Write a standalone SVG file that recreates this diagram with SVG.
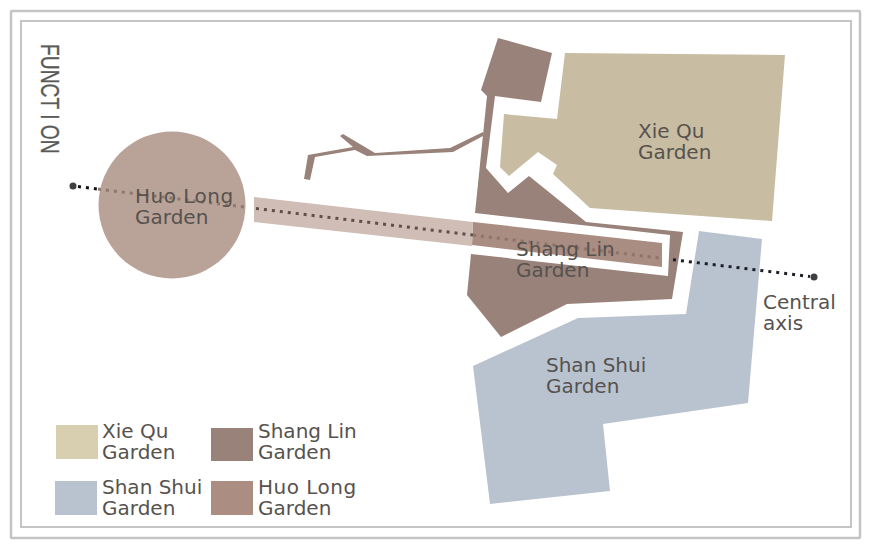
<svg xmlns="http://www.w3.org/2000/svg" width="878" height="551" viewBox="0 0 878 551">
<style>
text{font-family:"DejaVu Sans","Liberation Sans",sans-serif;font-size:20px;fill:#57524e}
.wide{letter-spacing:.5px}
.plain{letter-spacing:0}
.frame{fill:none;stroke:#c4c4c4}
.sl{fill:#98827a}
.axis{fill:none;stroke-width:3;stroke-dasharray:3 5}
</style>
<rect width="878" height="551" fill="#fff"/>
<rect class="frame" x="11" y="11" width="849" height="527" stroke-width="2.5" rx="1"/>
<rect class="frame" x="21" y="21" width="830" height="506" stroke-width="2"/>
<g id="function-title"><text transform="translate(41,44) rotate(90) scale(.74,1)" style="font-family:'Liberation Sans',sans-serif;font-size:26px;fill:#5a5a58;stroke:#5a5a58;stroke-width:.3">FUNCT I ON</text></g>
<g id="xie-qu"><path fill="#c8bca2" d="M565 53 785 55 772 221 590 208 553 174 557 165 538 152 509 176 500 167 504 114 557 119Z"/></g>
<g id="shan-shui"><path fill="#b9c3d0" d="M699 231 762 239 748 403 603 424 610 491 490 504 473 366 578 318 686 314Z"/></g>
<g id="shang-lin">
<path class="sl" d="M498 38 552 53 541 102 495 96 486 168 508 193 529 176 586 222 683 232 672 299 567 304 501 337 467 295 471 254 668 276 670 235 475 213 487 96 481 90Z"/>
<path class="sl" d="M308 155 353 147 340 136 343 134 375 153 450 148 483 132 483 136 453 152 367 156 355 150 315 157 310 180 304 179Z"/>
<path fill="#a98c82" d="M473 222 662 243 662 267 472 245Z"/>
</g>
<g id="huo-long"><circle cx="172" cy="205" r="73.5" fill="#b9a399"/><path fill="#d0bdb5" d="M254 197 473 222 472 246 254 222Z"/></g>
<g id="connectors">
<path class="axis" stroke="#111" d="M78 186.6 98 189.1"/>
<path class="axis" stroke="#8f776d" d="M98 189.1 246 207.2"/>
<path class="axis" stroke="#5f4f49" d="M256 208.5 473 235.1"/>
<path class="axis" stroke="#8f7268" d="M473 235.1 662 258.3"/>
<path class="axis" stroke="#1c2026" d="M673 259.7 810 276.5"/>
<circle cx="73" cy="186" r="3.5" fill="#3f3f3f"/><circle cx="814" cy="277" r="3.5" fill="#3f3f3f"/>
</g>
<g id="labels">
<text class="wide" x="135" y="203">Huo Long<tspan class="plain" x="135" dy="21">Garden</tspan></text>
<text x="638" y="138">Xie Qu<tspan x="638" dy="21">Garden</tspan></text>
<text x="516" y="256">Shang Lin<tspan x="516" dy="21">Garden</tspan></text>
<text x="546" y="372">Shan Shui<tspan x="546" dy="21">Garden</tspan></text>
<text x="763" y="309">Central<tspan x="763" dy="21">axis</tspan></text>
</g>
<g id="legend-xie-qu"><rect x="56" y="425" width="42" height="34" fill="#d8cfb0"/><text x="102" y="438">Xie Qu<tspan x="102" dy="21">Garden</tspan></text></g>
<g id="legend-shang-lin"><rect x="211" y="428" width="42" height="33" fill="#98827a"/><text x="258" y="438">Shang Lin<tspan x="258" dy="21">Garden</tspan></text></g>
<g id="legend-shan-shui"><rect x="55" y="481" width="42" height="34" fill="#b9c3d0"/><text x="102" y="494">Shan Shui<tspan x="102" dy="21">Garden</tspan></text></g>
<g id="legend-huo-long"><rect x="211" y="481" width="42" height="34" fill="#ac8d81"/><text class="wide" x="258" y="494">Huo Long<tspan class="plain" x="258" dy="21">Garden</tspan></text></g>
</svg>
